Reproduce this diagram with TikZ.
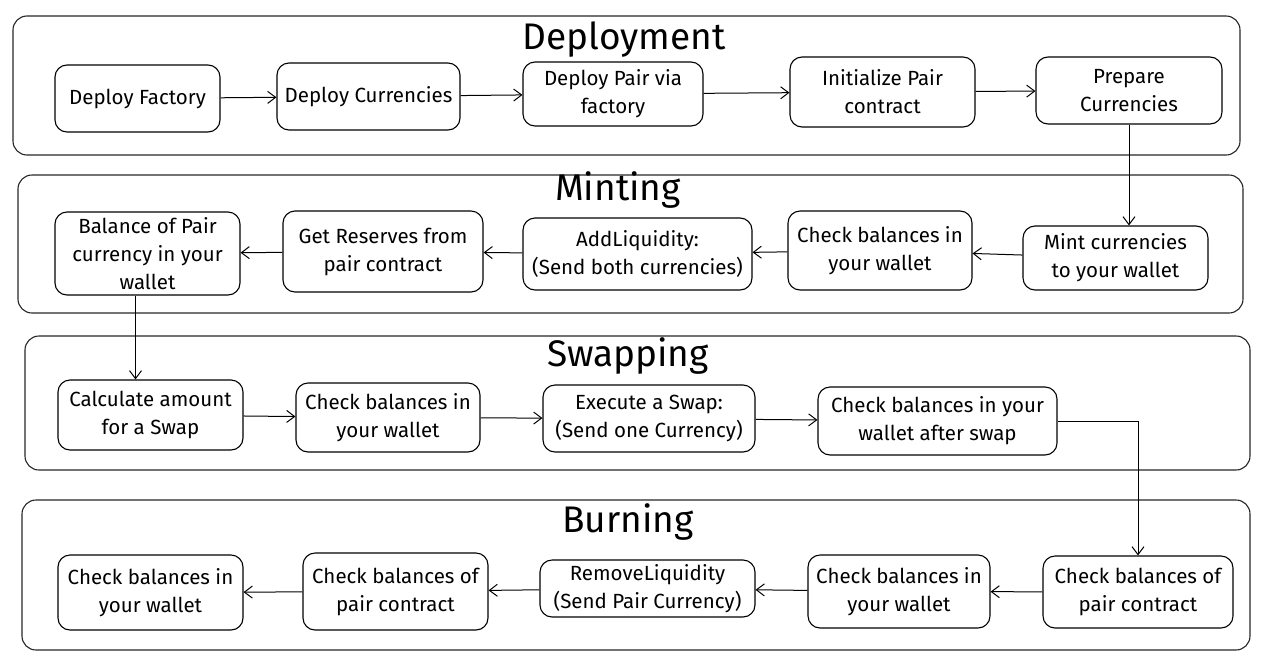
\documentclass[tikz,border=0pt]{standalone}
\usepackage{fontspec}
\setmainfont{Fira Sans}
\usetikzlibrary{arrows.meta}
\tikzset{>={Straight Barb[length=8pt,width=12pt]}}
\tikzset{
  stagebox/.style={draw=black!85,line width=1.1pt,rounded corners=14pt},
  stagetitle/.style={font=\fontsize{37}{42}\selectfont},
  taskbox/.style={draw,line width=1.1pt,rounded corners=12pt,align=center,
    inner sep=2pt,font=\fontsize{20.5}{28}\selectfont},
  flow/.style={->,line width=1pt}
}

\begin{document}
\begin{tikzpicture}[x=1pt,y=-1pt]
\useasboundingbox (0,0) rectangle (1263,659);
% the four stages
\draw[stagebox] (13,16) rectangle (1240,155);
\draw[stagebox] (18,175) rectangle (1243,313);
\draw[stagebox] (25,336) rectangle (1250,470);
\draw[stagebox] (22,500) rectangle (1250,650);
\node[stagetitle] (tdep) at (624,40) {Deployment};
\node[stagetitle] (tmint) at (618,190) {Minting};
\node[stagetitle] (tswap) at (628,356) {Swapping};
\node[stagetitle] (tburn) at (628,522) {Burning};
% deployment
\node[taskbox,minimum width=165pt,minimum height=67pt] (df) at (137.5,98.5) {Deploy Factory};
\node[taskbox,minimum width=183pt,minimum height=67pt] (dc) at (368.5,96.5) {Deploy Currencies};
\node[taskbox,minimum width=180pt,minimum height=64pt] (dp) at (613,94) {Deploy Pair via\\factory};
\node[taskbox,minimum width=185pt,minimum height=70pt] (ip) at (882.5,92) {Initialize Pair\\contract};
\node[taskbox,minimum width=186pt,minimum height=67pt] (pc) at (1129,90.5) {Prepare\\Currencies};
\draw[flow] (df) -- (dc);
\draw[flow] (dc) -- (dp);
\draw[flow] (dp) -- (ip);
\draw[flow] (ip) -- (pc);
% minting
\node[taskbox,minimum width=185pt,minimum height=64pt] (mc) at (1115.5,258) {Mint currencies\\to your wallet};
\node[taskbox,minimum width=184pt,minimum height=79pt] (cbm) at (880,250.5) {Check balances in\\your wallet};
\node[taskbox,minimum width=229pt,minimum height=72pt] (al) at (637.5,254) {AddLiquidity:\\(Send both currencies)};
\node[taskbox,minimum width=200pt,minimum height=81pt] (gr) at (383,251.5) {Get Reserves from\\pair contract};
\node[taskbox,minimum width=185pt,minimum height=83pt] (bp) at (147.5,253.5) {Balance of Pair\\currency in your\\wallet};
\draw[flow] (pc.south) -- (pc.south |- mc.north);
\draw[flow] (mc) -- (cbm);
\draw[flow] (cbm) -- (al);
\draw[flow] (al) -- (gr);
\draw[flow] (gr) -- (bp);
% swapping
\node[taskbox,minimum width=185pt,minimum height=70pt] (ca) at (150.5,415) {Calculate amount\\for a Swap};
\node[taskbox,minimum width=184pt,minimum height=69pt] (cbs) at (388,417.5) {Check balances in\\your wallet};
\node[taskbox,minimum width=212pt,minimum height=67pt] (es) at (649,418.5) {Execute a Swap:\\(Send one Currency)};
\node[taskbox,minimum width=239pt,minimum height=68pt] (cs) at (937.5,421) {Check balances in your\\wallet after swap};
\draw[flow] ([xshift=-12pt]bp.south) -- ([xshift=-12pt]bp.south |- ca.north);
\draw[flow] (ca) -- (cbs);
\draw[flow] (cbs) -- (es);
\draw[flow] (es) -- (cs);
% burning
\node[taskbox,minimum width=190pt,minimum height=72pt] (bpc) at (1138,592) {Check balances of\\pair contract};
\node[taskbox,minimum width=182pt,minimum height=73pt] (bwa) at (899,591.5) {Check balances in\\your wallet};
\node[taskbox,minimum width=215pt,minimum height=57pt] (rl) at (647.5,588.5) {RemoveLiquidity\\(Send Pair Currency)};
\node[taskbox,minimum width=185pt,minimum height=77pt] (bpd) at (395.5,591.5) {Check balances of\\pair contract};
\node[taskbox,minimum width=185pt,minimum height=75pt] (bwb) at (150.5,592.5) {Check balances in\\your wallet};
\draw[flow] (cs.east) -| (bpc.north);
\draw[flow] (bpc) -- (bwa);
\draw[flow] (bwa) -- (rl);
\draw[flow] (rl) -- (bpd);
\draw[flow] (bpd) -- (bwb);
\end{tikzpicture}
\end{document}
